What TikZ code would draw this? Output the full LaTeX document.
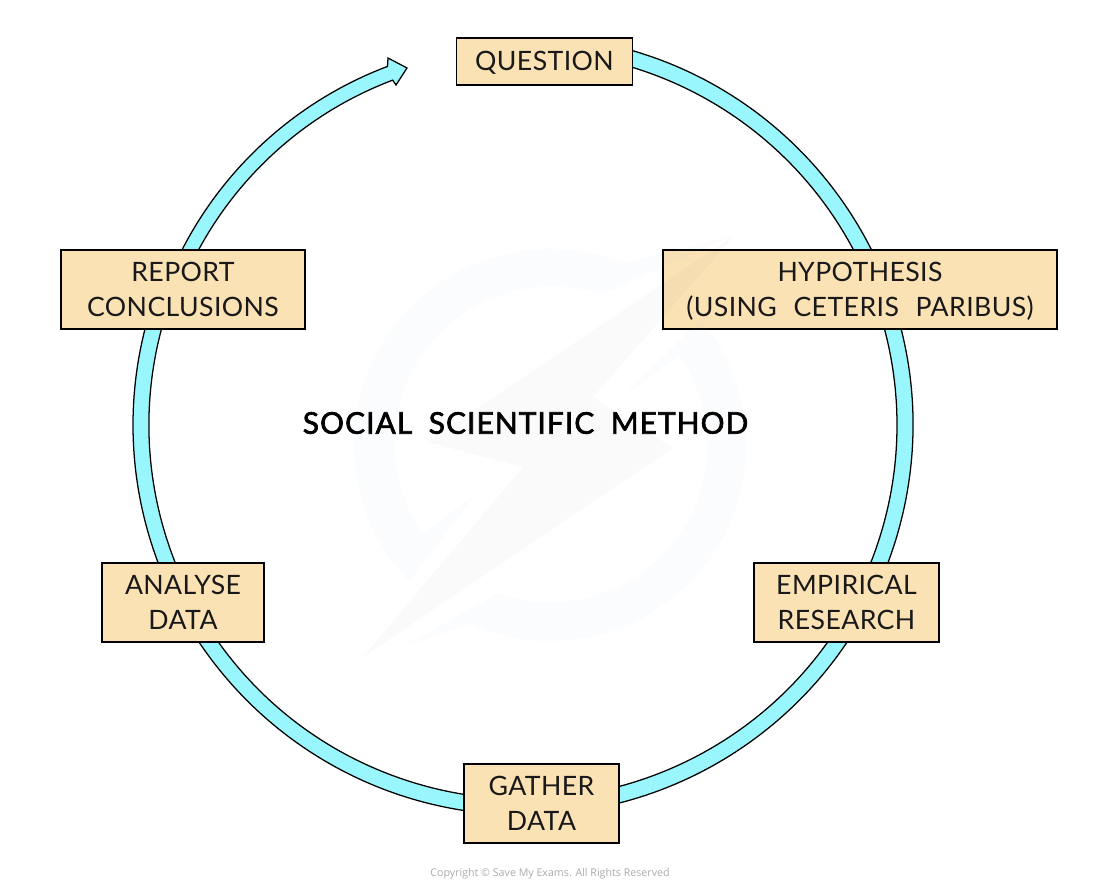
\documentclass[tikz,border=0pt]{standalone}
\usepackage{fontspec}
\usetikzlibrary{calc}
\setmainfont[WordSpace=2.3,LetterSpace=1.5]{Lato}
\newfontfamily\titlefont[WordSpace=1.9,LetterSpace=3.6,FakeBold=2.2]{Lato}
\newfontfamily\copyfont{Open Sans}
\definecolor{ringblue}{HTML}{99F6FC}
\definecolor{boxtan}{HTML}{FBE2B5}
\definecolor{copygray}{HTML}{ABABAB}
\newcommand{\bx}{\rule[-4pt]{0pt}{22pt}}
\tikzset{
  stepbox/.style={draw=black,fill=boxtan,line width=1.1pt,align=center,inner sep=0pt,
    font=\fontsize{20}{26}\selectfont,text=black!90},
  wmring/.style={fill=cyan!40!blue!40,fill opacity=.035,draw=none},
  wmbolt/.style={fill=black,fill opacity=.02,draw=none}
}
\begin{document}
\begin{tikzpicture}[x=0.75pt,y=0.75pt]
\useasboundingbox (0,0) rectangle (1100,889);
\fill[white] (0,0) rectangle (1100,889);
\coordinate (c) at (523,464);
\coordinate (w) at (550,444);
% big cycle band
\draw[fill=ringblue,line width=0.95pt,line join=miter]
  ($(c)+(80:292.5pt)$) arc[start angle=80,end angle=-200,radius=292.5pt]
  -- ($(c)+(160:287.5pt)$) arc[start angle=160,end angle=110.7,radius=287.5pt]
  -- (388,831) -- (407,821) -- (396,804)
  -- ($(c)+(110.7:276.5pt)$) arc[start angle=110.7,end angle=160,radius=276.5pt]
  -- ($(c)+(160:280.5pt)$) arc[start angle=160,end angle=440,radius=280.5pt]
  -- cycle;
% boxes
\node[stepbox,minimum width=132pt,minimum height=35.25pt] (question) at (544.5,827.5) {\bx QUESTION};
\node[stepbox,minimum width=295.5pt,minimum height=59.25pt] (hypothesis) at (860,599.5) {\bx HYPOTHESIS\\\bx (USING CETERIS PARIBUS)};
\node[stepbox,minimum width=183pt,minimum height=59.25pt] (report) at (183,599.5) {\bx REPORT\\\bx CONCLUSIONS};
\node[stepbox,minimum width=121.5pt,minimum height=59.25pt] (analyse) at (183,286.5) {\bx ANALYSE\\\bx DATA};
\node[stepbox,minimum width=138.75pt,minimum height=59.25pt] (empirical) at (846.5,286.5) {\bx EMPIRICAL\\\bx RESEARCH};
\node[stepbox,minimum width=116.25pt,minimum height=59.25pt] (gather) at (541.5,85.5) {\bx GATHER\\\bx DATA};
% watermark
\path[wmring] ($(w)+(68:147pt)$) arc[start angle=68,end angle=224,radius=147pt]
  -- (477,396) -- ($(w)+(215:116.25pt)$) arc[start angle=215,end angle=71.6,radius=118pt]
  -- (735,654) -- cycle;
\path[wmring] ($(w)+(39.8:147pt)$) arc[start angle=39.8,end angle=-114,radius=147pt]
  -- (407,244) -- ($(w)+(-109.5:118pt)$) arc[start angle=-109.5,end angle=34.7,radius=118pt]
  -- (623,492) -- cycle;
\path[wmbolt] (735,654) -- (427,447) -- (523,422) -- (363,232) -- (673,441) -- (593,492) -- cycle;
% title and copyright
\node[font=\titlefont\fontsize{22.4}{26}\selectfont,text=black] (title) at (525.5,466) {SOCIAL SCIENTIFIC METHOD};
\node[font=\copyfont\fontsize{8}{10}\selectfont,text=copygray] (copy) at (550,15) {Copyright © Save My Exams. All Rights Reserved};
\end{tikzpicture}
\end{document}
